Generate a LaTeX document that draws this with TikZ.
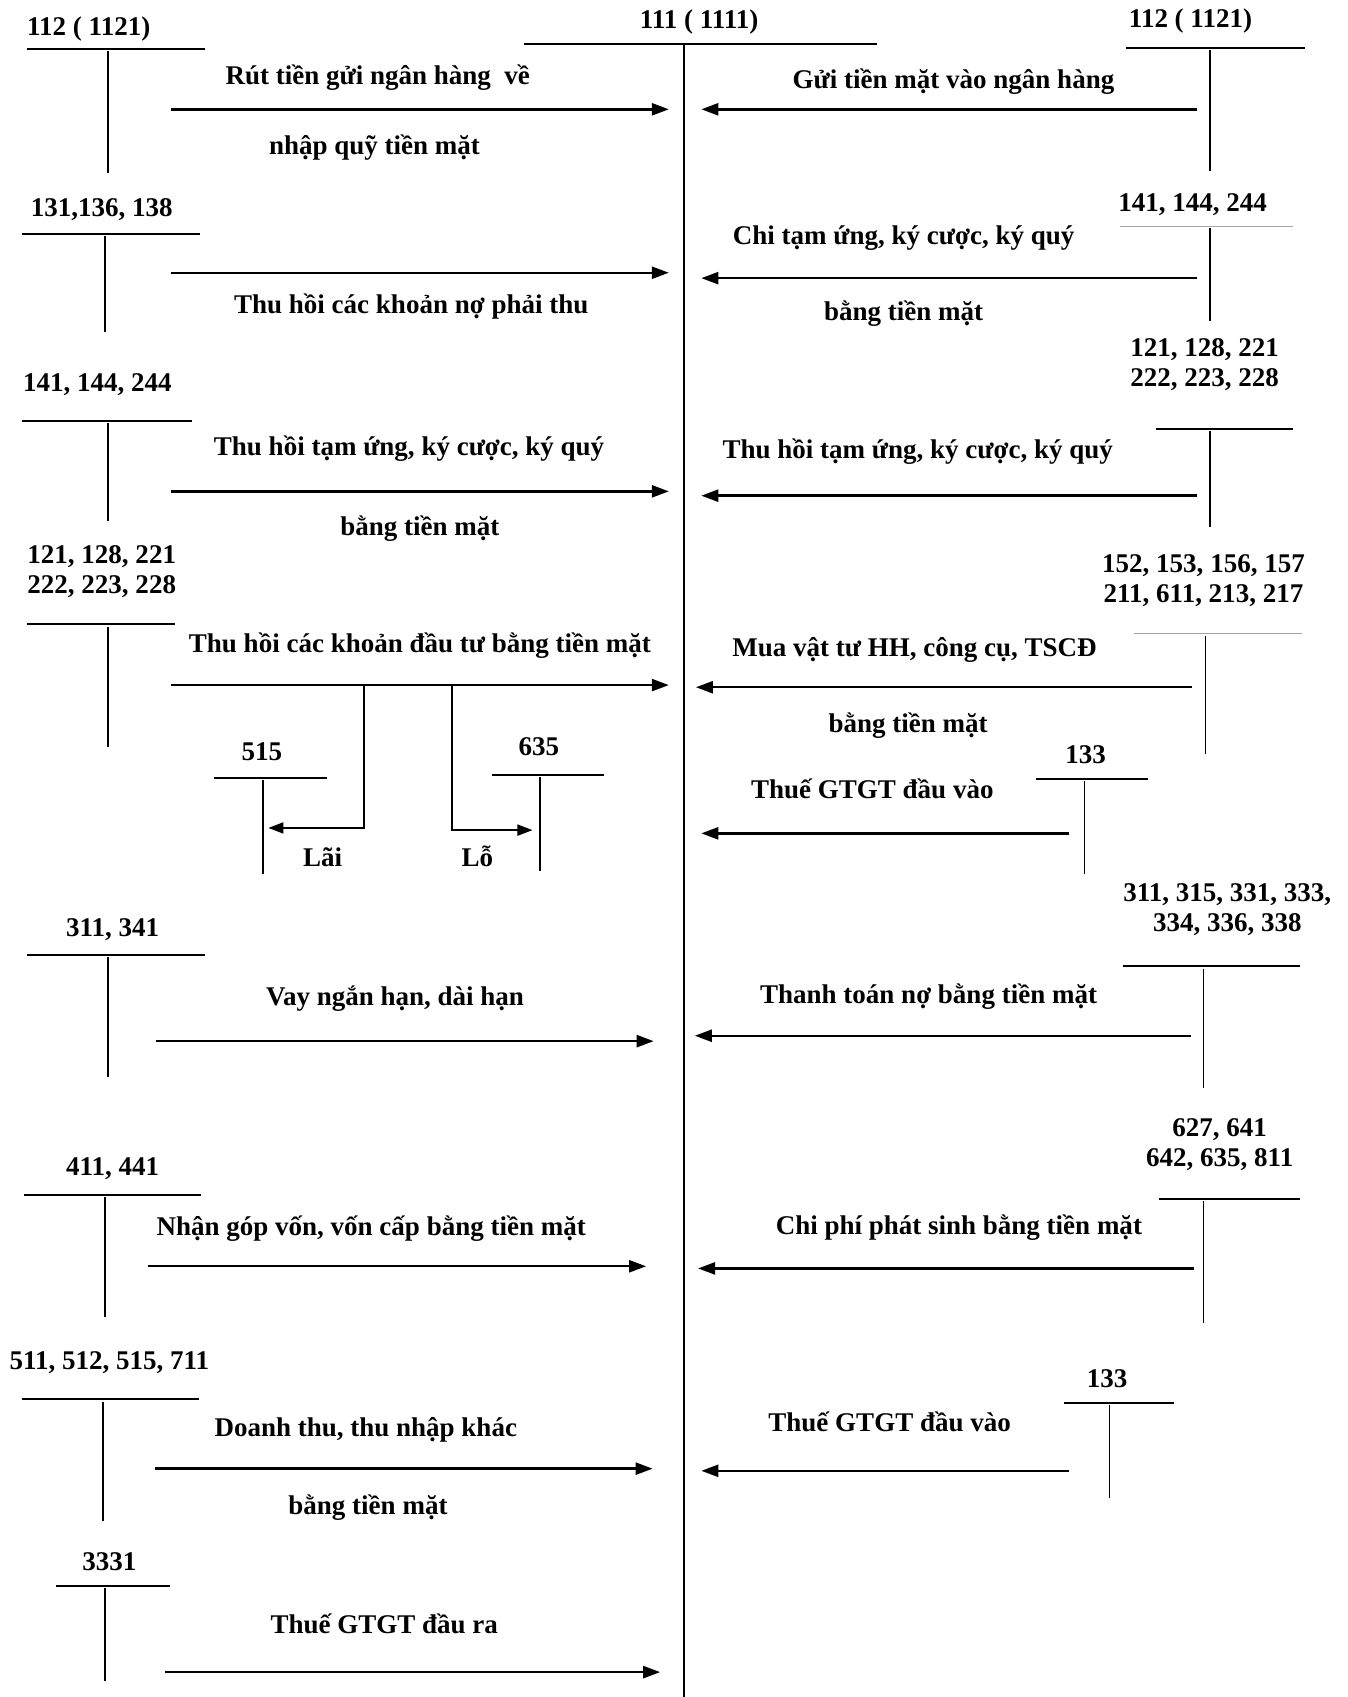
\documentclass[tikz,border=0pt]{standalone}
\usepackage{fontspec}
\setmainfont{Liberation Serif}
\usetikzlibrary{arrows.meta}

\begin{document}
\begin{tikzpicture}[
    x=1.0819pt, y=-1.0819pt,
    every node/.style={font=\fontsize{27}{30}\selectfont\bfseries, inner sep=0pt, align=center, anchor=base},
    tline/.style={line width=2pt},
    faint/.style={line width=1.2pt, black!35},
    tstem/.style={line width=1.6pt},
    flow/.style={line width=2.4pt, -{Triangle[length=17pt,width=12pt]}},
    branch/.style={line width=1.8pt, -{Triangle[length=15pt,width=11pt]}}
]
\useasboundingbox (0,0) rectangle (1245,1568);

% central account 111
\node (k111) at (646,26) {111 ( 1111)};
\draw[tline] (484,41) -- (810,41);
\draw[tline] (632,41) -- (632,1568);

% 112 left
\node (k112l) at (82,33) {112 ( 1121)};
\draw[tline] (25,45) -- (189,45);
\draw[tstem] (100,47) -- (100,160);
\coordinate (s1) at (158,101);
\coordinate (t1) at (618,101);
\draw[flow] (s1) -- (t1);
\node (n1a) at (349,78) {Rút tiền gửi ngân hàng~ về};
\node (n1b) at (346,143) {nhập quỹ tiền mặt};

% 112 right
\node (k112r) at (1100,25) {112 ( 1121)};
\draw[tline] (1040,44) -- (1206,44);
\draw[tstem] (1118,46) -- (1118,158);
\coordinate (s2) at (1106,101);
\coordinate (t2) at (648,101);
\draw[flow] (s2) -- (t2);
\node (n2) at (881,82) {Gửi tiền mặt vào ngân hàng};

% 131, 136, 138
\node (k131) at (94,200) {131,136, 138};
\draw[tline] (20,216) -- (185,216);
\draw[tstem] (97,218) -- (97,307);
\coordinate (s3) at (158,252);
\coordinate (t3) at (618,252);
\draw[flow] (s3) -- (t3);
\node (n3) at (380,290) {Thu hồi các khoản nợ phải thu};

% 141, 144, 244 right
\node (k141r) at (1102,195) {141, 144, 244};
\draw[faint] (1035,209) -- (1195,209);
\draw[tstem] (1118,211) -- (1118,297);
\coordinate (s4) at (1106,257);
\coordinate (t4) at (648,257);
\draw[flow] (s4) -- (t4);
\node (n4a) at (835,226) {Chi tạm ứng, ký cược, ký quý};
\node (n4b) at (835,296) {bằng tiền mặt};

% 141, 144, 244 left
\node (k141l) at (90,362) {141, 144, 244};
\draw[tline] (20,389) -- (177,389);
\draw[tstem] (100,391) -- (100,481);
\coordinate (s5) at (158,454);
\coordinate (t5) at (618,454);
\draw[flow] (s5) -- (t5);
\node (n5a) at (378,421) {Thu hồi tạm ứng, ký cược, ký quý};
\node (n5b) at (388,495) {bằng tiền mặt};

% 121, 128, ... right
\node (k121r) at (1113,357) {121, 128, 221\\222, 223, 228};
\draw[tline] (1068,396) -- (1195,396);
\draw[tstem] (1118,398) -- (1118,487);
\coordinate (s6) at (1106,458);
\coordinate (t6) at (648,458);
\draw[flow] (s6) -- (t6);
\node (n6) at (848,424) {Thu hồi tạm ứng, ký cược, ký quý};

% 121, 128, ... left
\node (k121l) at (94,548) {121, 128, 221\\222, 223, 228};
\draw[tline] (25,577) -- (162,577);
\draw[tstem] (100,579) -- (100,690);
\coordinate (s7) at (158,633);
\coordinate (t7) at (618,633);
\draw[flow] (s7) -- (t7);
\node (n7) at (388,603) {Thu hồi các khoản đầu tư bằng tiền mặt};

% 515 and 635
\node (k515) at (242,703) {515};
\draw[tline] (198,719) -- (302,719);
\draw[tstem] (243,721) -- (243,808);
\node (k635) at (498,698) {635};
\draw[tline] (455,716) -- (558,716);
\draw[tstem] (499,718) -- (499,805);
\coordinate (b1) at (336,633);
\coordinate (e515) at (248,765);
\coordinate (b2) at (418,633);
\coordinate (e635) at (492,767);
\draw[branch] (b1) |- (e515);
\draw[branch] (b2) |- (e635);
\node (lai) at (298,801) {Lãi};
\node (lo) at (441,801) {Lỗ};

% 152, 153, ... right
\node (k152) at (1112,557) {152, 153, 156, 157\\211, 611, 213, 217};
\draw[faint] (1048,585) -- (1203,585);
\draw[tstem] (1114,588) -- (1114,697);
\coordinate (s8) at (1101,635);
\coordinate (t8) at (643,635);
\draw[flow] (s8) -- (t8);
\node (n8a) at (845,607) {Mua vật tư HH, công cụ, TSCĐ};
\node (n8b) at (839,677) {bằng tiền mặt};

% 133 (first)
\node (k133a) at (1003,705) {133};
\draw[tline] (957,720) -- (1061,720);
\draw[tstem] (1002,722) -- (1002,808);
\coordinate (s9) at (988,770);
\coordinate (t9) at (648,770);
\draw[flow] (s9) -- (t9);
\node (n9) at (806,738) {Thuế GTGT đầu vào};

% 311, 341
\node (k311l) at (104,865) {311, 341};
\draw[tline] (25,882) -- (189,882);
\draw[tstem] (100,884) -- (100,995);
\coordinate (s10) at (144,962);
\coordinate (t10) at (604,962);
\draw[flow] (s10) -- (t10);
\node (n10) at (365,929) {Vay ngắn hạn, dài hạn};

% 311, 315, ... right
\node (k311r) at (1134,861) {311, 315, 331, 333,\\334, 336, 338};
\draw[tline] (1038,893) -- (1201,893);
\draw[tstem] (1112,895) -- (1112,1005);
\coordinate (s11) at (1100,957);
\coordinate (t11) at (642,957);
\draw[flow] (s11) -- (t11);
\node (n11) at (858,927) {Thanh toán nợ bằng tiền mặt};

% 411, 441
\node (k411) at (104,1086) {411, 441};
\draw[tline] (22,1104) -- (186,1104);
\draw[tstem] (97,1106) -- (97,1217);
\coordinate (s12) at (137,1170);
\coordinate (t12) at (597,1170);
\draw[flow] (s12) -- (t12);
\node (n12) at (343,1142) {Nhận góp vốn, vốn cấp bằng tiền mặt};

% 627, 641, ... right
\node (k627) at (1127,1078) {627, 641\\642, 635, 811};
\draw[tline] (1071,1108) -- (1201,1108);
\draw[tstem] (1112,1110) -- (1112,1222);
\coordinate (s13) at (1103,1172);
\coordinate (t13) at (645,1172);
\draw[flow] (s13) -- (t13);
\node (n13) at (886,1141) {Chi phí phát sinh bằng tiền mặt};

% 511, 512, 515, 711
\node (k511) at (101,1265) {511, 512, 515, 711};
\draw[tline] (20,1293) -- (184,1293);
\draw[tstem] (95,1295) -- (95,1405);
\coordinate (s14) at (143,1357);
\coordinate (t14) at (603,1357);
\draw[flow] (s14) -- (t14);
\node (n14a) at (338,1327) {Doanh thu, thu nhập khác};
\node (n14b) at (340,1399) {bằng tiền mặt};

% 133 (second)
\node (k133b) at (1023,1282) {133};
\draw[tline] (983,1296) -- (1085,1296);
\draw[tstem] (1025,1298) -- (1025,1384);
\coordinate (s15) at (988,1359);
\coordinate (t15) at (648,1359);
\draw[flow] (s15) -- (t15);
\node (n15) at (822,1323) {Thuế GTGT đầu vào};

% 3331
\node (k3331) at (101,1451) {3331};
\draw[tline] (52,1465) -- (157,1465);
\draw[tstem] (97,1467) -- (97,1553);
\coordinate (s16) at (152,1545);
\coordinate (t16) at (610,1545);
\draw[flow] (s16) -- (t16);
\node (n16) at (355,1509) {Thuế GTGT đầu ra};
\end{tikzpicture}
\end{document}
